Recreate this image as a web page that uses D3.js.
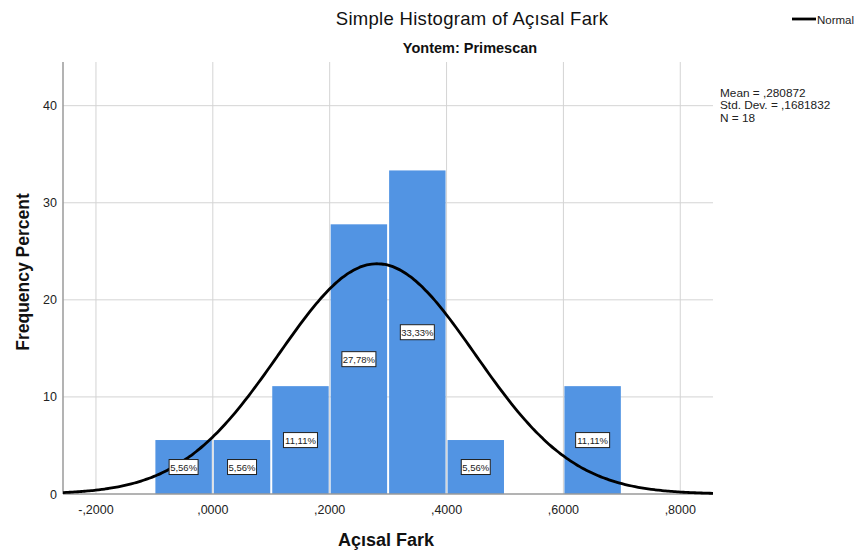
<!DOCTYPE html>
<html>
<head>
<meta charset="utf-8">
<script src="https://cdn.jsdelivr.net/npm/d3@7"></script>
<style>
	body { margin: 0; background: #fff; }
	text { font-family: "Liberation Sans", Arial, sans-serif; }
</style>
</head>
<body>
<svg id="chart" width="856" height="555"></svg>
<script>
// bins of the histogram (lower edge), percent per bin
var binStart = [-0.1, 0.0, 0.1, 0.2, 0.3, 0.4, 0.5, 0.6];
var binPercent = [5.56, 5.56, 11.11, 27.78, 33.33, 5.56, 0, 11.11];
var binLabels = ["5,56%", "5,56%", "11,11%", "27,78%", "33,33%", "5,56%", "", "11,11%"];
var xTicks = [-0.2, 0.0, 0.2, 0.4, 0.6, 0.8];
var xTickLabels = ["-,2000", ",0000", ",2000", ",4000", ",6000", ",8000"];
var yTicks = [0, 10, 20, 30, 40];
var statsLines = ["Mean = ,280872", "Std. Dev. = ,1681832", "N = 18"];
var mean = 0.280872;
var sd = 0.1681832;
var binWidth = 0.1;

var svg = d3.select("#chart");
var pLeft = 63, pRight = 713, pTop = 62, pBottom = 494;

var x = d3.scaleLinear().domain([-0.2564, 0.856]).range([pLeft, pRight]);
var y = d3.scaleLinear().domain([0, 44.5]).range([pBottom, pTop]);

// gridlines
svg.selectAll(".vgrid").data(xTicks).enter()
	.append("line")
	.attr("x1", function(d){ return x(d); })
	.attr("x2", function(d){ return x(d); })
	.attr("y1", pTop).attr("y2", pBottom)
	.attr("stroke", "#d4d4d4").attr("stroke-width", 1);
svg.selectAll(".hgrid").data(yTicks.slice(1)).enter()
	.append("line")
	.attr("x1", pLeft).attr("x2", pRight)
	.attr("y1", function(d){ return y(d); })
	.attr("y2", function(d){ return y(d); })
	.attr("stroke", "#d4d4d4").attr("stroke-width", 1);

// bars
var bars = binStart.map(function(s, i){ return {s: s, v: binPercent[i], label: binLabels[i]}; })
	.filter(function(d){ return d.v > 0; });

svg.selectAll(".bar").data(bars).enter()
	.append("rect")
	.attr("x", function(d){ return x(d.s) + 1; })
	.attr("width", function(d){ return x(d.s + binWidth) - x(d.s) - 2; })
	.attr("y", function(d){ return y(d.v); })
	.attr("height", function(d){ return y(0) - y(d.v); })
	.attr("fill", "#5294e3");

// axes lines
svg.append("line").attr("x1", pLeft).attr("x2", pLeft).attr("y1", pTop).attr("y2", pBottom)
	.attr("stroke", "#9a9a9a").attr("stroke-width", 1.5);
svg.append("line").attr("x1", pLeft).attr("x2", pRight).attr("y1", pBottom).attr("y2", pBottom)
	.attr("stroke", "#9a9a9a").attr("stroke-width", 1.5);

// normal curve (scaled to percent per bin)
var curveX = d3.range(0, 201).map(function(i){ return -0.2564 + i * (0.856 + 0.2564) / 200; });
var line = d3.line()
	.x(function(d){ return x(d); })
	.y(function(d){
		var z = (d - mean) / sd;
		return y(100 * binWidth * Math.exp(-0.5 * z * z) / (sd * Math.sqrt(2 * Math.PI)));
	})
	.curve(d3.curveBasis);
svg.append("path").datum(curveX)
	.attr("d", line)
	.attr("fill", "none").attr("stroke", "#000").attr("stroke-width", 2.8);

// bar labels
var lab = svg.selectAll(".lab").data(bars).enter().append("g")
	.attr("transform", function(d){
		return "translate(" + (x(d.s + binWidth / 2)) + "," + ((y(d.v) + y(0)) / 2) + ")";
	});
lab.append("rect")
	.attr("x", function(d){ return d.label.length > 5 ? -17 : -14.5; })
	.attr("width", function(d){ return d.label.length > 5 ? 34 : 29; })
	.attr("y", -7.5).attr("height", 15)
	.attr("fill", "#fff").attr("stroke", "#222").attr("stroke-width", 1);
lab.append("text")
	.attr("text-anchor", "middle").attr("y", 3.5)
	.attr("font-size", 9.5).attr("fill", "#222")
	.text(function(d){ return d.label; });

// tick labels
svg.selectAll(".xt").data(xTicks).enter()
	.append("text")
	.attr("x", function(d){ return x(d); })
	.attr("y", 514)
	.attr("text-anchor", "middle")
	.attr("font-size", 12.5).attr("fill", "#222")
	.text(function(d, i){ return xTickLabels[i]; });
svg.selectAll(".yt").data(yTicks).enter()
	.append("text")
	.attr("x", 57)
	.attr("y", function(d){ return y(d) + 4.5; })
	.attr("text-anchor", "end")
	.attr("font-size", 12.5).attr("fill", "#222")
	.text(function(d){ return d; });

// titles
svg.append("text").attr("x", 472).attr("y", 25).attr("text-anchor", "middle")
	.attr("font-size", 18.5).attr("letter-spacing", 0.3).attr("fill", "#111").text("Simple Histogram of Açısal Fark");
svg.append("text").attr("x", 470).attr("y", 53).attr("text-anchor", "middle")
	.attr("font-size", 14.5).attr("font-weight", "bold").attr("fill", "#111").text("Yontem: Primescan");
svg.append("text").attr("x", 386).attr("y", 546).attr("text-anchor", "middle")
	.attr("font-size", 18).attr("font-weight", "bold").attr("fill", "#111").text("Açısal Fark");
svg.append("text").attr("transform", "translate(29,272) rotate(-90)").attr("text-anchor", "middle")
	.attr("font-size", 17.5).attr("font-weight", "bold").attr("fill", "#111").text("Frequency Percent");

// legend
svg.append("line").attr("x1", 792).attr("x2", 816).attr("y1", 19).attr("y2", 19)
	.attr("stroke", "#000").attr("stroke-width", 2.8);
svg.append("text").attr("x", 817).attr("y", 23.5).attr("font-size", 11.5).attr("fill", "#222").text("Normal");

// stats
svg.selectAll(".st").data(statsLines).enter()
	.append("text")
	.attr("x", 720)
	.attr("y", function(d, i){ return 96.5 + i * 12.5; })
	.attr("font-size", 11.8).attr("fill", "#222")
	.text(function(d){ return d; });
</script>
</body>
</html>
